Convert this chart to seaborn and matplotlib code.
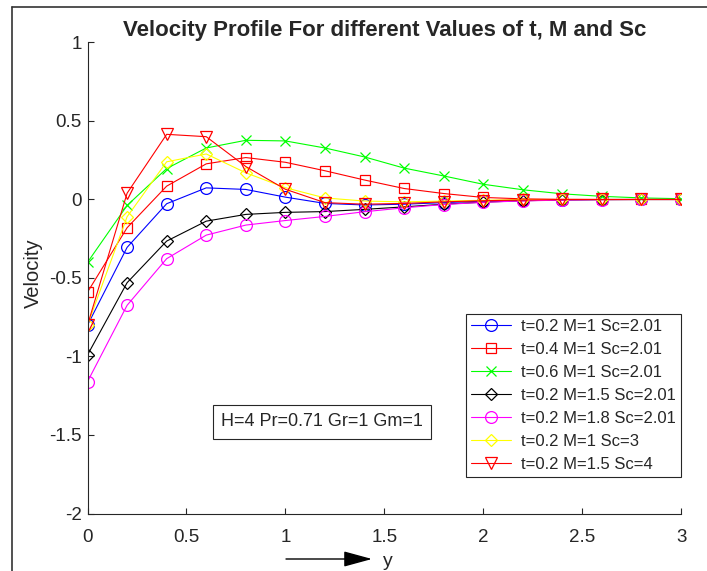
import numpy as np
import pandas as pd

import seaborn as sns
import matplotlib.pyplot as plt
from matplotlib.lines import Line2D

# distance y (horizontal axis)
y_pos = [0.0, 0.2, 0.4, 0.6, 0.8, 1.0, 1.2, 1.4, 1.6, 1.8, 2.0, 2.2, 2.4, 2.6, 2.8, 3.0]

# velocity for each case
vel_t02_m1_sc201 = [-0.80, -0.305, -0.027, 0.074, 0.064, 0.015, -0.025, -0.035, -0.030, -0.020, -0.010, -0.005, -0.002, 0.0, 0.0, 0.0]
vel_t04_m1_sc201 = [-0.59, -0.180, 0.085, 0.227, 0.267, 0.237, 0.183, 0.124, 0.070, 0.038, 0.013, 0.004, 0.001, 0.0, 0.0, 0.0]
vel_t06_m1_sc201 = [-0.40, -0.038, 0.197, 0.328, 0.377, 0.373, 0.328, 0.271, 0.200, 0.150, 0.097, 0.062, 0.036, 0.020, 0.010, 0.005]
vel_t02_m15_sc201 = [-0.99, -0.530, -0.265, -0.138, -0.095, -0.082, -0.077, -0.063, -0.047, -0.030, -0.017, -0.008, -0.003, -0.001, 0.0, 0.0]
vel_t02_m18_sc201 = [-1.16, -0.674, -0.377, -0.227, -0.163, -0.134, -0.108, -0.078, -0.053, -0.032, -0.018, -0.009, -0.004, -0.001, 0.0, 0.0]
vel_t02_m1_sc3 = [-0.80, -0.110, 0.240, 0.290, 0.170, 0.075, 0.010, -0.010, -0.015, -0.010, -0.005, 0.0, 0.0, 0.0, 0.0, 0.0]
vel_t02_m15_sc4 = [-0.80, 0.040, 0.415, 0.400, 0.210, 0.065, -0.020, -0.030, -0.025, -0.015, -0.008, -0.003, 0.0, 0.0, 0.0, 0.0]

case_labels = ['t=0.2 M=1 Sc=2.01', 't=0.4 M=1 Sc=2.01', 't=0.6 M=1 Sc=2.01',
               't=0.2 M=1.5 Sc=2.01', 't=0.2 M=1.8 Sc=2.01', 't=0.2 M=1 Sc=3',
               't=0.2 M=1.5 Sc=4']
case_values = [vel_t02_m1_sc201, vel_t04_m1_sc201, vel_t06_m1_sc201,
               vel_t02_m15_sc201, vel_t02_m18_sc201, vel_t02_m1_sc3, vel_t02_m15_sc4]

case_colors = ['#0000ff', '#ff0000', '#00ff00', '#000000', '#ff00ff', '#ffff00', '#ff0000']
case_markers = ['o', 's', 'x', 'D', 'o', 'D', 'v']
marker_sizes = {'o': 8.5, 's': 7.0, 'x': 7.5, 'D': 6.2, 'v': 9.0}

axis_color = '#262626'

sns.set_style('ticks')
plt.rcParams['font.family'] = ['Liberation Sans', 'DejaVu Sans']
plt.rcParams['xtick.direction'] = 'in'
plt.rcParams['ytick.direction'] = 'in'


def draw_velocity_profile(output_filename):
    fig = plt.figure(figsize=(7.07, 5.71), dpi=100)
    ax = fig.add_axes([0.1238, 0.1007, 0.8395, 0.8249])

    for label, vals, color, marker in zip(case_labels, case_values, case_colors, case_markers):
        sns.lineplot(x=y_pos, y=vals, ax=ax, color=color, marker=marker,
                     markersize=marker_sizes[marker], markerfacecolor='none',
                     markeredgecolor=color, markeredgewidth=0.9,
                     linewidth=0.8, label=label, sort=False)

    ax.set_xlim(0, 3)
    ax.set_ylim(-2, 1)
    ax.set_xticks([0, 0.5, 1, 1.5, 2, 2.5, 3])
    ax.set_xticklabels(['0', '0.5', '1', '1.5', '2', '2.5', '3'])
    ax.set_yticks([-2, -1.5, -1, -0.5, 0, 0.5, 1])
    ax.set_yticklabels(['-2', '-1.5', '-1', '-0.5', '0', '0.5', '1'])
    ax.tick_params(axis='both', labelsize=13.5, colors=axis_color, length=4, width=0.8)
    ax.tick_params(axis='x', pad=11)
    ax.tick_params(axis='y', pad=4)
    sns.despine(ax=ax)
    for side in ['left', 'bottom']:
        ax.spines[side].set_color(axis_color)
        ax.spines[side].set_linewidth(0.8)

    ax.set_xlabel('')
    ax.set_ylabel('Velocity', fontsize=14.5, color=axis_color)
    ax.yaxis.set_label_coords(-0.075, 0.51)
    ax.set_title('Velocity Profile For different Values of t, M and Sc',
                 fontsize=16, fontweight='bold', pad=5)

    ax.legend(loc='lower right', bbox_to_anchor=(1.0, 0.077), borderaxespad=0,
              fontsize=12, frameon=True, fancybox=False, edgecolor='#262626',
              framealpha=1, handlelength=2.4, handletextpad=0.6,
              labelspacing=0.48, borderpad=0.32)
    ax.get_legend().get_frame().set_linewidth(0.8)

    ax.text(0.395, 0.195, 'H=4 Pr=0.71 Gr=1 Gm=1', transform=ax.transAxes,
            fontsize=13, ha='center', va='center',
            bbox=dict(boxstyle='square,pad=0.47', facecolor='white',
                      edgecolor='#262626', linewidth=0.8))

    # arrow and "y" under the axis
    ax.annotate('', xy=(372 / 707, 1 - 559 / 571), xytext=(286 / 707, 1 - 559 / 571),
                xycoords='figure fraction', textcoords='figure fraction',
                arrowprops=dict(arrowstyle='-|>,head_length=1.1,head_width=0.3',
                                color='black', lw=1, mutation_scale=16,
                                shrinkA=0, shrinkB=0))
    fig.text(388 / 707, 1 - 561 / 571, 'y', fontsize=14, ha='center', va='center',
             color=axis_color)

    # window frame
    fig.add_artist(Line2D([12 / 707, 12 / 707], [0, 1 - 7 / 571],
                          transform=fig.transFigure, color='#333333', lw=1.2))
    fig.add_artist(Line2D([12 / 707, 1], [1 - 7 / 571, 1 - 7 / 571],
                          transform=fig.transFigure, color='#333333', lw=1.2))

    fig.savefig(output_filename, dpi=100)


def main():
    draw_velocity_profile('out.png')


if __name__ == '__main__':
    main()
